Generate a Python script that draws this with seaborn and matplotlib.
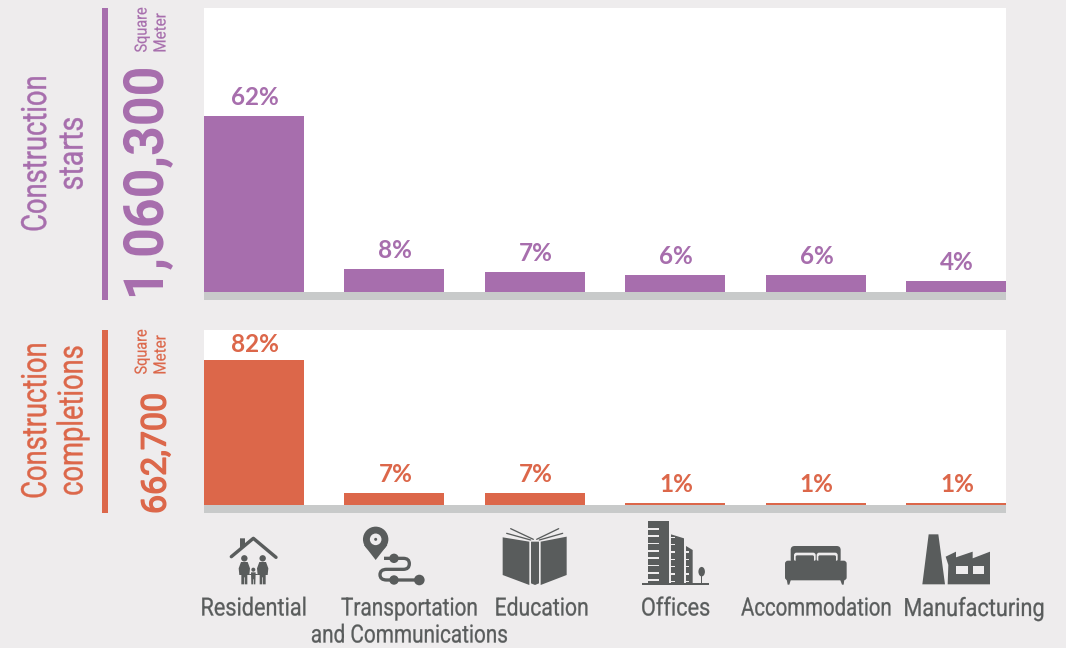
import matplotlib
matplotlib.use("Agg")
import matplotlib.pyplot as plt
import seaborn as sns
import pandas as pd
from matplotlib.patches import Rectangle, Polygon, Circle, Ellipse, FancyBboxPatch, PathPatch
from matplotlib.path import Path
from matplotlib.patheffects import AbstractPathEffect
from matplotlib.transforms import Affine2D

categories = ["Residential", "Transportation", "Education", "Offices", "Accommodation", "Manufacturing"]
starts_values = [62, 8, 7, 6, 6, 4]
completions_values = [82, 7, 7, 1, 1, 1]
starts_title = "Construction\nstarts"
completions_title = "Construction\ncompletions"
starts_total = "1,060,300"
completions_total = "662,700"

BG = "#EEECED"; PURPLE = "#A76EAD"; ORANGE = "#DC674A"; STRIP = "#C8CACA"; DARK = "#595C5C"
FONT = "Roboto"

class Squeeze(AbstractPathEffect):
    """Condense a text's glyphs along its baseline so it spans `length` pixels."""
    def __init__(self, length, bolden=0.0):
        super().__init__()
        self.length = length
        self.bolden = bolden
    def draw_path(self, renderer, gc, tpath, affine, rgbFace=None):
        e = tpath.get_extents()
        drawn = affine.transform_path(tpath).get_extents()
        sx = self.length / max(drawn.width, drawn.height)
        mid = (e.x0 + e.x1) / 2
        a = Affine2D().translate(-mid, 0).scale(sx, 1).translate(mid, 0) + affine
        gc0 = renderer.new_gc()
        gc0.copy_properties(gc)
        if self.bolden:
            gc0.set_linewidth(self.bolden)
            gc0.set_foreground(rgbFace)
        else:
            gc0.set_linewidth(0)
        renderer.draw_path(gc0, tpath, a, rgbFace)
        gc0.restore()

sns.set_theme(style="white")
W, H = 1066, 648
fig = plt.figure(figsize=(W/100, H/100), dpi=100, facecolor=BG)

def panel(top, bottom):
    ax = fig.add_axes([204/W, 1-bottom/H, (1006-204)/W, (bottom-top)/H])
    ax.set_facecolor("white")
    for s in ax.spines.values():
        s.set_visible(False)
    return ax

def draw(ax, values, color, ymax):
    df = pd.DataFrame({"category": categories, "share": values})
    sns.barplot(data=df, x="category", y="share", ax=ax, color=color, saturation=1, width=0.712, linewidth=0)
    ax.set_xlim(-0.356, 5.356)
    ax.set_ylim(0, ymax)
    ax.set_xticks([]); ax.set_yticks([])
    ax.set_xlabel(""); ax.set_ylabel("")
    for i, v in enumerate(values):
        pad = 4 if v > 75 else 7
        ax.annotate(f"{v}%", (i, v), xytext=(1, pad), textcoords="offset pixels", ha="center", va="bottom",
                    color=color, fontsize=17.5, fontweight="bold", family="Lato")

ax1 = panel(8, 292)
draw(ax1, starts_values, PURPLE, 100)
ax2 = panel(330, 505)
draw(ax2, completions_values, ORANGE, 99)

ov = fig.add_axes([0, 0, 1, 1], zorder=5)
ov.set_xlim(0, W); ov.set_ylim(H, 0); ov.axis("off"); ov.patch.set_alpha(0)

def rect(x0, y0, x1, y1, c):
    ov.add_patch(Rectangle((x0, y0), x1-x0, y1-y0, fc=c, ec="none"))

rect(204, 292, 1006, 300, STRIP)
rect(204, 505, 1006, 513, STRIP)
rect(102, 8, 108, 300, PURPLE)
rect(102, 330, 108, 513, ORANGE)

def txt(x, y, s, length, size, color, rotation=90, weight="normal", bolden=0.0):
    t = ov.text(x, y, s, rotation=rotation, ha="center", va="center", color=color,
                fontsize=size, family=FONT, fontweight=weight)
    t.set_path_effects([Squeeze(length, bolden)])

l1, l2 = starts_title.split("\n")
txt(36.5, 153.5, l1, 153, 25, PURPLE, bolden=0.3)
txt(73, 153.5, l2, 71, 25, PURPLE, bolden=0.3)
txt(148, 183.5, starts_total, 227, 40, PURPLE, weight="bold")
txt(142, 30, "Square", 44, 12, PURPLE, bolden=0.15)
txt(161, 33, "Meter", 38, 12, PURPLE, bolden=0.15)

l1, l2 = completions_title.split("\n")
txt(36.5, 420.5, l1, 153, 25, ORANGE, bolden=0.3)
txt(73, 420.5, l2, 148, 25, ORANGE, bolden=0.3)
txt(156.5, 453.5, completions_total, 117, 24.5, ORANGE, bolden=1.0)
txt(142, 352, "Square", 44, 12, ORANGE, bolden=0.15)
txt(161, 355, "Meter", 38, 12, ORANGE, bolden=0.15)

label_span = [(202, 305), (342, 477), (496, 587), (642, 709), (742, 891), (905, 1043)]
for (a, b), c in zip(label_span, categories):
    txt((a+b)/2, 608.5, c, b-a, 18, DARK, rotation=0, bolden=0.2)
txt(409.5, 635.5, "and Communications", 195, 18, DARK, rotation=0, bolden=0.2)

# icons, in reference pixels
def z1(pts): return [(190+x/3, 500+y/3) for x, y in pts]
def z2(pts): return [(620+x/3, 500+y/3) for x, y in pts]
def poly(pts, c=DARK): ov.add_patch(Polygon(pts, closed=True, fc=c, ec="none"))
def line(pts, lw=3, c=DARK):
    xs, ys = zip(*pts)
    ov.plot(xs, ys, color=c, lw=lw*0.72, solid_capstyle="round", solid_joinstyle="round")
def circ(p, r, c=DARK): ov.add_patch(Circle(p, r, fc=c, ec="none"))

# house
line(z1([(124, 170), (190, 115), (258, 172)]), 3.4)
poly(z1([(150, 115), (165, 115), (165, 132), (150, 145)]))
for cx in (163, 218):
    circ(z1([(cx, 175)])[0], 3.2)
    poly(z1([(cx-10, 186), (cx+10, 186), (cx+17, 205), (cx+15, 225), (cx+9, 225), (cx+9, 253),
             (cx+1, 253), (cx+1, 232), (cx-1, 232), (cx-1, 253), (cx-9, 253), (cx-9, 225), (cx-15, 225), (cx-17, 205)]))
circ(z1([(190, 209)])[0], 2)
poly(z1([(183, 217), (197, 217), (196, 253), (191, 253), (191, 238), (189, 238), (189, 253), (184, 253)]))
line(z1([(178, 222), (202, 222)]), 1)

# pin and route
circ(z1([(557, 118)])[0], 12.7)
poly(z1([(522, 135), (592, 135), (557, 180)]))
circ(z1([(557, 118)])[0], 5.8, BG)
circ(z1([(557, 118)])[0], 1.5)
p = z1([(582, 175), (640, 175), (658, 175), (658, 191), (658, 208), (640, 208), (590, 208),
        (570, 208), (570, 224), (570, 240), (590, 240), (690, 240)])
codes = [Path.MOVETO, Path.LINETO, Path.CURVE3, Path.CURVE3, Path.CURVE3, Path.CURVE3, Path.LINETO,
         Path.CURVE3, Path.CURVE3, Path.CURVE3, Path.CURVE3, Path.LINETO]
ov.add_patch(PathPatch(Path(p, codes), fc="none", ec=DARK, lw=3.3*0.72))
circ(z1([(612, 175)])[0], 4.7); circ(z1([(612, 240)])[0], 4.7); circ(z1([(688, 240)])[0], 5.3)

# book
poly(z1([(938, 112), (1018, 125), (1018, 255), (938, 225)]))
poly(z1([(1052, 125), (1130, 110), (1130, 225), (1052, 255)]))
poly(z1([(1023, 125), (1047, 125), (1047, 250), (1035, 255), (1023, 250)]))
for a, b in (((950, 100), (1022, 120)), ((962, 86), (1030, 118)), ((1118, 100), (1048, 120)), ((1106, 86), (1040, 118))):
    line(z1([a, b]), 1.3)

# offices
poly(z2([(85, 62), (147, 62), (147, 250), (85, 250)]))
poly(z2([(153, 103), (192, 115), (192, 250), (153, 250)]))
poly(z2([(198, 138), (218, 150), (218, 250), (198, 250)]))
rect(*z2([(66, 248)])[0], *z2([(266, 254)])[0], DARK)
for i in range(8):
    y = 84 + i*22
    rect(*z2([(85, y)])[0], *z2([(117, y+5)])[0], BG)
    if y > 100:
        rect(*z2([(153, y+4)])[0], *z2([(165, y+8)])[0], BG)
    if y > 140:
        rect(*z2([(198, y+4)])[0], *z2([(206, y+8)])[0], BG)
ov.add_patch(Ellipse(z2([(245, 215)])[0], 6.5, 9.5, fc=DARK, ec="none"))
rect(*z2([(243, 222)])[0], *z2([(247, 250)])[0], DARK)

# bed
def rrect(p0, p1, c=DARK, r=3):
    ov.add_patch(FancyBboxPatch((p0[0]+r, p0[1]+r), p1[0]-p0[0]-2*r, p1[1]-p0[1]-2*r,
                                boxstyle=f"round,pad={r},rounding_size={r}", fc=c, ec="none"))
rrect(*z2([(512, 138), (662, 190)]), r=4)
rrect(*z2([(522, 158), (587, 185)]), BG, 2.5)
rrect(*z2([(590, 158), (653, 185)]), BG, 2.5)
rrect(*z2([(527, 166), (582, 185)]), DARK, 1.5)
rrect(*z2([(595, 166), (648, 185)]), DARK, 1.5)
rrect(*z2([(495, 182), (680, 241)]), r=3)
poly(z2([(500, 238), (513, 238), (508, 254), (503, 254)]))
poly(z2([(660, 238), (673, 238), (671, 254), (666, 254)]))

# factory
poly(z2([(926, 103), (955, 103), (975, 253), (907, 253)]))
poly(z2([(983, 253), (985, 195), (977, 170), (1008, 155), (1008, 172), (1058, 155), (1058, 175), (1110, 155), (1110, 253)]))
rect(*z2([(1008, 197)])[0], *z2([(1045, 222)])[0], BG)
rect(*z2([(1058, 197)])[0], *z2([(1093, 222)])[0], BG)

fig.savefig("out.png", dpi=100, facecolor=BG)
